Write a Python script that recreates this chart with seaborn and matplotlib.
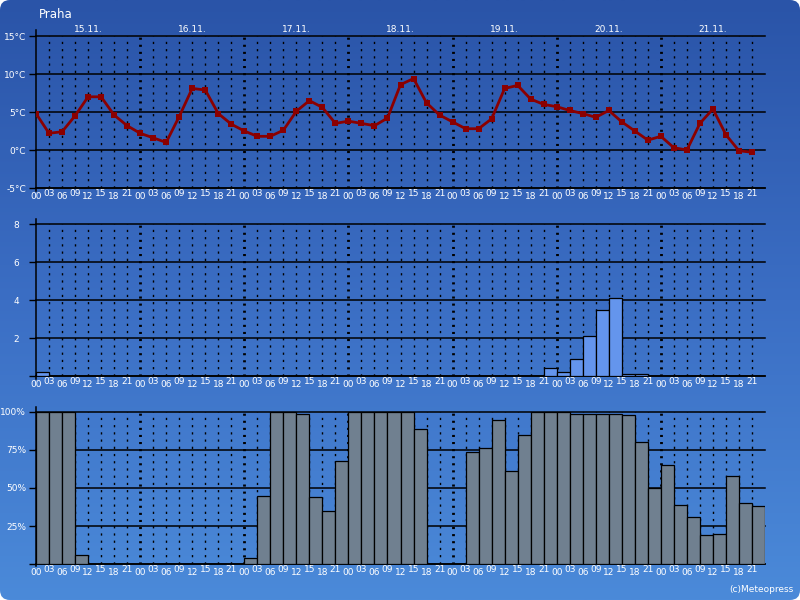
import numpy as np
import pandas as pd
import seaborn as sns
import matplotlib.pyplot as plt
from matplotlib.colors import LinearSegmentedColormap
from matplotlib.patches import FancyBboxPatch
import matplotlib.transforms as mtransforms

# data, every 3 hours from 15.11. 00:00 to 21.11. 21:00
days = ['15.11.', '16.11.', '17.11.', '18.11.', '19.11.', '20.11.', '21.11.']
hour_labels = ['00', '03', '06', '09', '12', '15', '18', '21']

temperature = [4.8, 2.2, 2.4, 4.5, 7.0, 7.0, 4.6, 3.2,
               2.2, 1.6, 1.0, 4.4, 8.1, 7.9, 4.8, 3.4,
               2.5, 1.8, 1.8, 2.6, 5.1, 6.5, 5.6, 3.5,
               3.8, 3.5, 3.2, 4.2, 8.6, 9.4, 6.2, 4.6,
               3.7, 2.8, 2.8, 4.1, 8.1, 8.5, 6.7, 6.0,
               5.7, 5.2, 4.8, 4.3, 5.2, 3.7, 2.5, 1.3,
               1.8, 0.3, 0.0, 3.5, 5.4, 2.0, -0.1, -0.3]

precipitation = [0.2, 0, 0, 0, 0, 0, 0, 0,
                 0, 0, 0, 0, 0, 0, 0, 0,
                 0, 0, 0, 0, 0, 0, 0, 0,
                 0, 0, 0, 0, 0, 0, 0, 0,
                 0, 0, 0, 0, 0, 0, 0, 0.4,
                 0.2, 0.9, 2.1, 3.5, 4.1, 0.1, 0.1, 0,
                 0, 0, 0, 0, 0, 0, 0, 0]

cloud_cover = [100, 100, 100, 6, 0, 0, 0, 0,
               0, 0, 0, 0, 0, 0, 0, 0,
               4, 45, 100, 100, 99, 44, 35, 68,
               100, 100, 100, 100, 100, 89, 0, 0,
               0, 74, 76, 95, 61, 85, 100, 100,
               100, 99, 99, 99, 99, 98, 80, 50,
               65, 39, 31, 19, 20, 58, 40, 38]

hours = np.arange(len(temperature)) * 3
tick_text = [hour_labels[i % 8] for i in range(len(hours))]
df = pd.DataFrame({'hour': hours, 'temp': temperature,
                   'precip': precipitation, 'cloud': cloud_cover})

fig = plt.figure(figsize=(8, 6), dpi=100)
fig.patch.set_facecolor('white')

# gradient background with rounded corners
bg = fig.add_axes([0, 0, 1, 1], zorder=-10)
bg.set_xlim(0, 800)
bg.set_ylim(600, 0)
bg.axis('off')
cmap = LinearSegmentedColormap.from_list('bg', ['#2a54a8', '#3b6ec4', '#4b8ad9'])
im = bg.imshow(np.linspace(0, 1, 256).reshape(-1, 1), extent=[0, 800, 600, 0],
               aspect='auto', cmap=cmap)
frame = FancyBboxPatch((0, 0), 800, 600, boxstyle='round,pad=0,rounding_size=10',
                       facecolor='none', edgecolor='none', transform=bg.transData)
bg.add_patch(frame)
im.set_clip_path(frame)

left, width, height = 36 / 800, 729 / 800, 152 / 600
ax1 = fig.add_axes([left, 1 - 188 / 600, width, height])
ax2 = fig.add_axes([left, 1 - 376 / 600, width, height])
ax3 = fig.add_axes([left, 1 - 564 / 600, width, height])


def style_panel(ax, yticks, ylabels, ylim, ypad, bounds):
    ax.set_facecolor('none')
    ax.set_xlim(0, 168)
    ax.set_ylim(*ylim)
    ax.spines['top'].set_visible(False)
    ax.spines['right'].set_visible(False)
    ax.spines['left'].set_bounds(*bounds)
    ax.spines['left'].set_linewidth(1.1)
    ax.spines['bottom'].set_linewidth(1.1)
    ax.set_yticks(yticks, ylabels)
    ax.tick_params(axis='y', length=5, width=1, color='black', labelcolor='white',
                   labelsize=6.5, pad=ypad)
    for y in yticks:
        ax.axhline(y, color='black', lw=1.1, zorder=0.5, clip_on=False)
    for h in hours[1:]:
        if h % 24 == 0:
            ax.axvline(h, color='black', lw=2.0, ls=(0, (0.75, 1.8)), zorder=1)
        else:
            ax.axvline(h, color='black', lw=1.0, ls=(0, (1.6, 3.6)), zorder=1)
    ax.set_xticks(hours, tick_text)
    ax.tick_params(axis='x', length=0, labelcolor='white', labelsize=6.5)
    for i, t in enumerate(ax.xaxis.get_major_ticks()):
        t.set_pad(3.2 if i % 2 == 0 else 1.0)
    ax.set_xlabel('')
    ax.set_ylabel('')


# temperature
sns.lineplot(data=df, x='hour', y='temp', ax=ax1, color='#8b0000', linewidth=2.0,
             marker='s', markersize=4.5, markeredgewidth=0, zorder=5)
style_panel(ax1, [-5, 0, 5, 10, 15], ['-5°C', '0°C', '5°C', '10°C', '15°C'],
            (-5, 15), 2, (-5.4, 15.8))

# precipitation
sns.histplot(data=df, x='hour', weights='precip', binwidth=3, binrange=(0, 168),
             ax=ax2, color='#6495ed', edgecolor='black', linewidth=0.9, alpha=1, zorder=3)
style_panel(ax2, [0, 2, 4, 6, 8], ['', '2', '4', '6', '8'], (0, 8), 7, (-0.15, 8.26))

# cloud cover
sns.histplot(data=df, x='hour', weights='cloud', binwidth=3, binrange=(0, 168),
             ax=ax3, color='#708090', edgecolor='black', linewidth=0.9, alpha=1, zorder=3)
style_panel(ax3, [0, 25, 50, 75, 100], ['', '25%', '50%', '75%', '100%'], (0, 100), 2,
            (-1.5, 103.3))

# day labels above the top panel
trans = mtransforms.blended_transform_factory(ax1.transData, ax1.transAxes)
for i, day in enumerate(days):
    ax1.text(i * 24 + 12, 1.04, day, transform=trans, ha='center', va='center',
             color='white', fontsize=6.5)

fig.text(39 / 800, 1 - 15 / 600, 'Praha', color='white', fontsize=8.5,
         ha='left', va='center')
fig.text(793 / 800, 1 - 590 / 600, '(c)Meteopress', color='white', fontsize=6.5,
         ha='right', va='center')

fig.savefig('out.png', dpi=100, facecolor=fig.get_facecolor())
